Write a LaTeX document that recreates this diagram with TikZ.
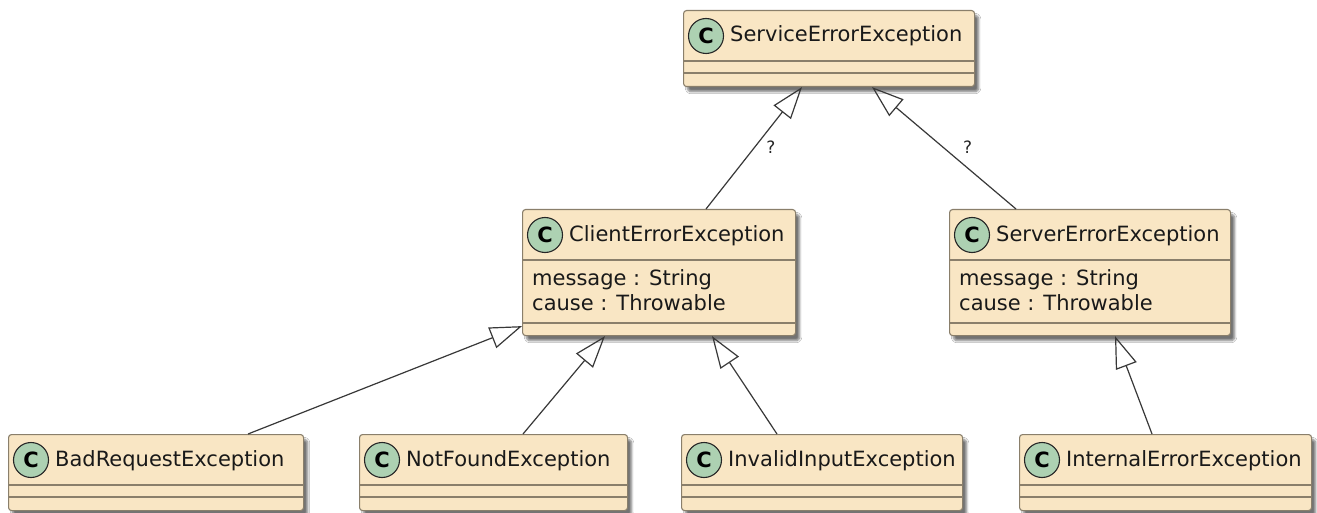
\documentclass[tikz,border=0pt]{standalone}
\usepackage{fontspec}
\setmainfont{DejaVu Sans}
\usetikzlibrary{arrows.meta,shadows.blur,calc}
\definecolor{boxfill}{HTML}{F9E6C4}
\definecolor{boxdraw}{HTML}{8A7F6B}
\definecolor{circfill}{HTML}{ADD1B2}
\definecolor{edgecol}{HTML}{383838}
\tikzset{
  classbox/.style={draw=boxdraw, fill=boxfill, line width=1.1pt, rounded corners=3pt,
    blur shadow={shadow xshift=4pt, shadow yshift=-5pt, shadow opacity=55, shadow blur steps=6, shadow blur extra rounding=2pt},
    inner sep=0pt},
  sepline/.style={draw=boxdraw, line width=1.1pt},
  circ/.style={circle, draw=black!85, fill=circfill, line width=1.1pt, minimum size=35pt, inner sep=0pt,
    font=\fontsize{21}{21}\selectfont\bfseries},
  titletext/.style={anchor=base west, inner sep=0pt, font=\fontsize{21}{25}\selectfont, text=black!90},
  attrtext/.style={anchor=base west, inner sep=0pt, font=\fontsize{21}{25}\selectfont, text=black!90},
  ext/.style={draw=edgecol, line width=1.2pt, -{Triangle[open, length=32pt, width=22pt, line width=1.2pt]}},
  qlabel/.style={font=\fontsize{17}{17}\selectfont, text=black!85, inner sep=0pt},
}
% #1 name, #2 x left, #3 y top, #4 width, #5 height, #6 title, #7 y of second separator from top
\newcommand\umlclass[7]{%
  \node[classbox, minimum width=#4pt, minimum height=#5pt, anchor=north west] (#1) at (#2,#3) {};
  \draw[sepline] ([yshift=-51pt]#1.north west) -- ([yshift=-51pt]#1.north east);
  \draw[sepline] ([yshift=-#7pt]#1.north west) -- ([yshift=-#7pt]#1.north east);
  \node[circ] (#1-c) at ([xshift=23pt,yshift=-26pt]#1.north west) {C};
  \node[titletext] (#1-t) at ([xshift=47pt,yshift=-32pt]#1.north west) {#6};
}
\newcommand\umlattrs[1]{%
  \node[attrtext] (#1-a1) at ([xshift=10pt,yshift=-76pt]#1.north west) {message : String};
  \node[attrtext] (#1-a2) at ([xshift=10pt,yshift=-101pt]#1.north west) {cause : Throwable};
}
\begin{document}
\begin{tikzpicture}[x=1pt,y=-1pt]
\useasboundingbox[fill=white] (0,0) rectangle (1317,513);
\umlclass{svc}{683}{10}{291}{76}{ServiceErrorException}{63}
\umlclass{cli}{522}{209}{273}{126}{ClientErrorException}{114}
\umlattrs{cli}
\umlclass{srv}{949}{209}{281}{126}{ServerErrorException}{114}
\umlattrs{srv}
\umlclass{bad}{8}{434}{295}{76}{BadRequestException}{63}
\umlclass{nf}{359}{434}{268}{76}{NotFoundException}{63}
\umlclass{inv}{681}{434}{281}{76}{InvalidInputException}{63}
\umlclass{int}{1019}{434}{292}{76}{InternalErrorException}{63}
% edges
\draw[ext] ([xshift=184pt]cli.north west) -- node[qlabel, pos=0.51, xshift=16pt] (q1) {?} ([xshift=119pt]svc.south west);
\draw[ext] ([xshift=67pt]srv.north west) -- node[qlabel, pos=0.51, xshift=25pt] (q2) {?} ([xshift=189pt]svc.south west);
\draw[ext] ([xshift=240pt]bad.north west) -- ([yshift=10pt]cli.south west);
\draw[ext] ([xshift=164pt]nf.north west) -- ([xshift=83pt]cli.south west);
\draw[ext] ([xshift=96pt]inv.north west) -- ([xshift=190pt]cli.south west);
\draw[ext] ([xshift=133pt]int.north west) -- ([xshift=166pt]srv.south west);
\end{tikzpicture}
\end{document}
